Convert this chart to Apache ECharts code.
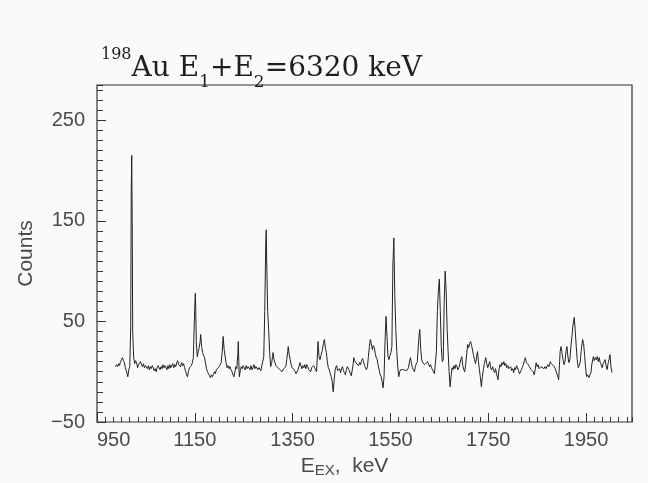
<!DOCTYPE html>
<html>
<head>
<meta charset="utf-8">
<script src="https://cdn.jsdelivr.net/npm/echarts@6/dist/echarts.min.js"></script>
<style>
html,body{margin:0;padding:0;background:#fafafa;}
#chart{width:648px;height:483px;}
</style>
</head>
<body>
<div id="chart"></div>
<script>
// Tick labels
const xTickLabels = [950, 1150, 1350, 1550, 1750, 1950];
const yTickLabels = [-50, 50, 150, 250];
const xRange = [950, 2044];
const yRange = [-50, 285];

// Spectrum: [E_EX (keV), counts]
const spectrum = [
[988,5],[990,7],[992,5],[994,8],[996,6],[998,10],[1000,12],[1002,14],[1004,11],[1006,9],
[1008,4],[1010,1],[1012,-3],[1013,-5],[1015,2],[1017,5],[1019,45],[1020,180],[1021,215],[1022,150],
[1023,40],[1025,14],[1027,8],[1029,11],[1031,9],[1033,4],[1035,7],[1037,6],[1039,10],[1041,7],
[1043,5],[1045,8],[1047,4],[1049,6],[1051,5],[1053,3],[1055,6],[1057,2],[1059,5],[1061,3],
[1063,6],[1065,4],[1067,1],[1069,3],[1071,0],[1073,4],[1075,6],[1077,5],[1079,2],[1081,5],
[1083,3],[1085,7],[1087,4],[1089,6],[1091,5],[1093,2],[1095,6],[1097,3],[1099,7],[1101,4],
[1103,5],[1105,8],[1107,4],[1109,7],[1111,5],[1113,9],[1115,11],[1117,7],[1119,8],[1121,5],
[1123,9],[1125,6],[1127,8],[1129,4],[1131,1],[1133,-3],[1135,-5],[1137,0],[1139,4],[1141,3],
[1143,6],[1145,9],[1147,14],[1149,50],[1151,78],[1152,60],[1153,30],[1155,15],[1157,20],[1159,24],
[1161,30],[1162,37],[1164,25],[1166,19],[1168,16],[1170,14],[1172,8],[1174,3],[1176,0],[1178,-2],
[1180,-4],[1182,-6],[1184,-3],[1186,-5],[1188,-3],[1190,0],[1192,-2],[1194,2],[1196,1],[1198,4],
[1200,3],[1202,7],[1204,9],[1206,20],[1208,35],[1210,22],[1212,15],[1214,9],[1216,4],[1218,6],
[1220,3],[1222,5],[1224,2],[1226,0],[1228,-3],[1230,-5],[1232,0],[1234,5],[1236,3],[1238,18],
[1239,30],[1240,10],[1241,-5],[1243,1],[1245,5],[1247,3],[1249,6],[1251,4],[1253,2],[1255,6],
[1257,3],[1259,5],[1261,5],[1263,2],[1265,6],[1267,2],[1269,4],[1271,7],[1273,3],[1275,5],
[1277,4],[1279,2],[1281,4],[1283,3],[1285,1],[1287,0],[1289,2],[1291,15],[1293,60],[1295,125],
[1296,141],[1297,110],[1299,60],[1301,42],[1303,20],[1305,5],[1307,8],[1309,15],[1310,19],[1312,12],
[1314,9],[1316,6],[1318,7],[1320,4],[1322,4],[1324,2],[1326,3],[1328,0],[1330,1],[1332,3],
[1334,4],[1336,5],[1338,12],[1340,20],[1341,25],[1343,17],[1345,12],[1347,7],[1349,4],[1351,3],
[1353,2],[1355,0],[1357,-2],[1359,-3],[1361,2],[1363,5],[1365,9],[1367,6],[1369,3],[1371,6],
[1373,4],[1375,7],[1377,3],[1379,7],[1381,5],[1383,2],[1385,1],[1387,0],[1389,4],[1391,3],
[1393,6],[1395,4],[1397,2],[1399,0],[1401,20],[1402,30],[1404,15],[1406,12],[1408,16],[1410,20],
[1411,22],[1413,28],[1415,32],[1417,24],[1419,19],[1421,10],[1423,4],[1425,2],[1427,-2],[1429,-5],
[1431,-10],[1433,-20],[1435,-8],[1437,2],[1438,4],[1440,6],[1442,1],[1444,0],[1446,3],[1448,-1],
[1450,3],[1452,5],[1454,1],[1456,-1],[1458,-3],[1460,2],[1462,5],[1464,4],[1466,1],[1468,-2],
[1470,-4],[1472,-5],[1474,8],[1475,14],[1477,11],[1479,9],[1481,10],[1483,8],[1485,6],[1487,9],
[1489,7],[1491,11],[1493,13],[1495,10],[1497,6],[1499,4],[1501,2],[1503,5],[1505,15],[1507,25],
[1509,32],[1511,28],[1513,22],[1515,26],[1517,24],[1519,18],[1521,14],[1523,12],[1525,6],[1527,2],
[1529,-3],[1531,-5],[1533,-10],[1535,-16],[1537,-5],[1539,30],[1541,55],[1543,35],[1545,15],[1547,12],
[1549,16],[1551,19],[1553,25],[1555,105],[1557,133],[1559,75],[1561,42],[1563,20],[1565,5],[1567,-5],
[1569,0],[1571,2],[1573,1],[1575,3],[1577,2],[1579,1],[1581,3],[1583,1],[1585,2],[1587,4],
[1589,10],[1591,14],[1593,8],[1595,4],[1597,2],[1599,0],[1601,5],[1603,8],[1605,10],[1607,25],
[1609,38],[1610,42],[1612,22],[1614,12],[1616,9],[1618,10],[1620,7],[1622,8],[1624,6],[1626,10],
[1628,9],[1630,5],[1632,7],[1634,4],[1636,2],[1638,0],[1640,-2],[1642,-3],[1644,20],[1646,60],
[1648,80],[1650,92],[1652,60],[1654,25],[1656,10],[1658,12],[1660,70],[1662,100],[1664,80],[1666,42],
[1668,20],[1670,0],[1672,-15],[1674,-5],[1676,4],[1678,2],[1680,6],[1682,3],[1684,7],[1686,5],
[1688,2],[1690,4],[1692,8],[1694,12],[1696,15],[1698,6],[1700,2],[1702,0],[1704,8],[1706,18],
[1708,27],[1710,24],[1712,28],[1714,30],[1716,26],[1718,25],[1720,16],[1722,12],[1724,8],[1726,14],
[1728,20],[1730,10],[1732,2],[1734,-6],[1736,-15],[1738,-5],[1740,2],[1742,8],[1744,12],[1745,14],
[1747,8],[1749,4],[1751,5],[1753,10],[1755,4],[1757,2],[1759,5],[1761,1],[1763,-1],[1765,3],
[1767,-2],[1769,-6],[1770,-8],[1772,2],[1774,7],[1776,5],[1778,9],[1780,7],[1782,10],[1784,6],
[1786,8],[1788,4],[1790,6],[1792,3],[1794,2],[1796,5],[1798,1],[1800,3],[1802,-1],[1804,4],
[1806,2],[1808,6],[1810,4],[1812,1],[1814,-2],[1816,-3],[1818,2],[1820,5],[1822,7],[1824,11],
[1826,14],[1828,9],[1830,10],[1832,7],[1834,5],[1836,4],[1838,2],[1840,3],[1842,0],[1844,-3],
[1846,2],[1848,9],[1850,5],[1852,7],[1854,3],[1856,2],[1858,5],[1860,4],[1862,6],[1864,3],
[1866,5],[1868,3],[1870,3],[1872,7],[1874,5],[1876,8],[1877,10],[1879,8],[1881,9],[1883,7],
[1885,5],[1887,3],[1889,0],[1891,-3],[1893,-6],[1894,-8],[1896,10],[1897,20],[1899,25],[1901,18],
[1903,12],[1905,7],[1907,10],[1909,20],[1911,25],[1913,15],[1915,9],[1917,12],[1919,25],[1921,34],
[1923,45],[1926,54],[1928,40],[1930,25],[1932,12],[1934,4],[1936,6],[1938,9],[1940,20],[1943,32],
[1945,28],[1947,17],[1949,5],[1951,-5],[1953,-3],[1956,-6],[1958,-3],[1960,-1],[1962,8],[1965,15],
[1967,11],[1969,14],[1971,12],[1973,15],[1975,10],[1977,14],[1979,9],[1981,7],[1983,4],[1985,8],
[1987,10],[1989,12],[1991,6],[1993,2],[1995,8],[1997,12],[1999,17],[2001,5],[2003,-1]
];

const chart = echarts.init(document.getElementById('chart'), null, {renderer: 'canvas'});
const labelColor = '#4a4a4a';
const sans = '"Liberation Sans", Arial, sans-serif';
const serif = '"DejaVu Serif", serif';
const isLabel = (list) => (v) => list.some(t => Math.abs(t - v) < 1e-6) ? String(Math.round(v)).replace('-', '\u2212') : '';
const noLine = {show: false, onZero: false};

chart.setOption({
  animation: false,
  backgroundColor: '#fafafa',
  title: {
    text: '{sup|198}{m|Au E}{sub|1}{m|+E}{sub|2}{m|=6320 keV}',
    left: 101, top: 47, padding: 0,
    textStyle: {
      fontWeight: 'normal',
      rich: {
        m: {fontFamily: serif, fontSize: 28, fontWeight: 'normal', color: '#1e1e1e', lineHeight: 44, verticalAlign: 'middle'},
        sup: {fontFamily: serif, fontSize: 16, fontWeight: 'normal', color: '#1e1e1e', lineHeight: 14, verticalAlign: 'top'},
        sub: {fontFamily: serif, fontSize: 17, fontWeight: 'normal', color: '#1e1e1e', lineHeight: 26, verticalAlign: 'bottom'}
      }
    }
  },
  grid: {left: 97, top: 85, width: 535, height: 338, show: true, borderColor: '#333', borderWidth: 1.2, backgroundColor: 'transparent'},
  xAxis: [
    {type: 'value', min: xRange[0], max: xRange[1], interval: 200 / 12, position: 'bottom',
     axisLine: noLine, splitLine: {show: false},
     axisTick: {inside: true, length: 5, lineStyle: {color: '#333', width: 1}},
     axisLabel: {show: false}},
    {type: 'value', min: xRange[0], max: xRange[1], interval: 200, position: 'bottom',
     axisLine: noLine, splitLine: {show: false},
     axisTick: {inside: true, length: 9, lineStyle: {color: '#333', width: 1}},
     axisLabel: {formatter: isLabel(xTickLabels), color: labelColor, fontFamily: sans, fontSize: 20, margin: 8,
                 showMaxLabel: false, alignMinLabel: 'left'},
     name: '{e|E}{s|EX}{e|,  keV}', nameLocation: 'middle', nameGap: 32,
     nameTextStyle: {padding: [0, 40, 0, 0], rich: {
       e: {fontFamily: sans, fontSize: 21, color: labelColor, lineHeight: 24, verticalAlign: 'middle'},
       s: {fontFamily: sans, fontSize: 15, color: labelColor, lineHeight: 14, verticalAlign: 'bottom'}
     }}}
  ],
  yAxis: [
    {type: 'value', min: yRange[0], max: yRange[1], interval: 10, position: 'left',
     axisLine: noLine, splitLine: {show: false},
     axisTick: {inside: true, length: 6, lineStyle: {color: '#333', width: 1}},
     axisLabel: {show: false}},
    {type: 'value', min: yRange[0], max: yRange[1], interval: 100, position: 'left',
     axisLine: noLine, splitLine: {show: false},
     axisTick: {inside: true, length: 9, lineStyle: {color: '#333', width: 1}},
     axisLabel: {formatter: isLabel(yTickLabels), color: labelColor, fontFamily: sans, fontSize: 20, margin: 12,
                 showMaxLabel: false},
     name: 'Counts', nameLocation: 'middle', nameGap: 60,
     nameTextStyle: {fontFamily: sans, fontSize: 21, color: labelColor}}
  ],
  series: [{
    type: 'line', xAxisIndex: 0, yAxisIndex: 0, data: spectrum,
    showSymbol: false, symbol: 'none',
    lineStyle: {color: '#222', width: 1}
  }]
});
</script>
</body>
</html>
